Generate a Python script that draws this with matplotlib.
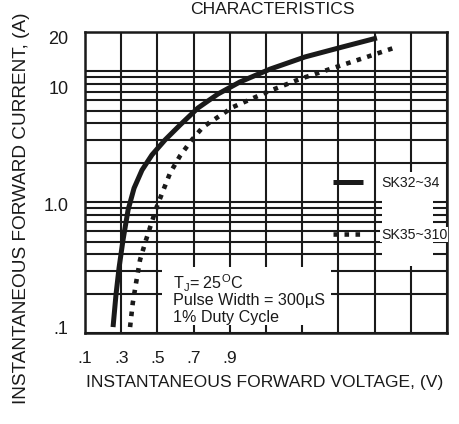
import matplotlib
matplotlib.use("Agg")
import matplotlib.pyplot as plt
from matplotlib.patches import Rectangle
from matplotlib.transforms import ScaledTranslation

# ---- data ----
sk32_v = [0.255, 0.271, 0.288, 0.310, 0.338, 0.371, 0.415, 0.470, 0.542, 0.625,
          0.724, 0.835, 0.956, 1.122, 1.316, 1.525, 1.713]
sk32_i = [0.111, 0.195, 0.314, 0.514, 0.872, 1.28, 1.76, 2.30, 2.99, 3.89,
          5.25, 6.72, 8.30, 10.4, 12.9, 15.4, 18.0]

sk35_v = [0.349, 0.364, 0.382, 0.404, 0.437, 0.496, 0.570, 0.625, 0.690, 0.752,
          0.918, 1.106, 1.288, 1.470, 1.658, 1.824]
sk35_i = [0.111, 0.170, 0.241, 0.362, 0.514, 0.919, 1.67, 2.26, 2.99, 3.76,
          5.34, 6.96, 8.75, 10.6, 12.9, 15.4]

series_labels = ["SK32~34", "SK35~310"]

x_ticks = [0.1, 0.3, 0.5, 0.7, 0.9, 1.1, 1.3, 1.5, 1.7, 1.9, 2.1]
x_ticklabels = [".1", ".3", ".5", ".7", ".9", "", "", "", "", "", ""]
y_ticks = [0.1, 1.0, 10.0, 20.0]
y_ticklabels = [".1", "1.0", "10", "20"]
y_minor = [0.2, 0.3, 0.4, 0.5, 0.6, 0.7, 0.8, 0.9, 2, 3, 4, 5, 6, 7, 8, 9]

note_lines = [r"T$_\mathregular{J}$= 25$^\mathregular{O}$C",
              "Pulse Width = 300\u00b5S",
              "1% Duty Cycle"]

# ---- style ----
INK = "#1a1a1a"
REG = ["Liberation Sans", "DejaVu Sans"]
plt.rcParams["font.family"] = REG
plt.rcParams["mathtext.fontset"] = "custom"
plt.rcParams["mathtext.rm"] = "Liberation Sans"

fig = plt.figure(figsize=(4.59, 4.24), dpi=100)
W, H = 459, 424
L, R, T, B = 85, 447, 32, 333
ax = fig.add_axes([L / W, (H - B) / H, (R - L) / W, (B - T) / H])

ax.set_yscale("log")
ax.set_xlim(0.1, 2.1)
ax.set_ylim(0.1, 20)

ax.set_xticks(x_ticks)
ax.set_xticklabels(x_ticklabels)
ax.set_yticks(y_ticks)
ax.set_yticklabels(y_ticklabels)
ax.set_yticks(y_minor, minor=True)
ax.yaxis.set_minor_formatter(matplotlib.ticker.NullFormatter())
ax.tick_params(axis="both", which="both", length=0, colors=INK)
ax.tick_params(axis="x", pad=13, labelsize=12.5)
ax.tick_params(axis="y", pad=12, labelsize=13)
ax.grid(True, which="both", color=INK, linewidth=1.5)
for s in ax.spines.values():
    s.set_color(INK)
    s.set_linewidth(1.8)

# nudge y tick labels to their printed positions
y_off_px = {".1": 6, "1.0": -2, "10": -16, "20": -6}
for lab in ax.get_yticklabels():
    dy = y_off_px.get(lab.get_text(), 0)
    lab.set_transform(lab.get_transform() + ScaledTranslation(0, dy / 100, fig.dpi_scale_trans))

# curves
ax.plot(sk32_v, sk32_i, color=INK, linewidth=3.6, solid_capstyle="butt",
        solid_joinstyle="round", zorder=3, label=series_labels[0])
ax.plot(sk35_v, sk35_i, color=INK, linewidth=3.3, linestyle=(0, (1.0, 1.4)),
        dash_capstyle="butt", zorder=3, label=series_labels[1])

# white boxes behind legend and note
def axfrac(px, py):
    return ((px - L) / (R - L), (B - py) / (B - T))

x0, y1 = axfrac(382, 172)
x1, y0 = axfrac(433, 266)
ax.add_patch(Rectangle((x0, y0), x1 - x0, y1 - y0, transform=ax.transAxes,
                       facecolor="white", edgecolor="none", zorder=2))
x0, y1 = axfrac(162, 267)
x1, y0 = axfrac(331, 325)
ax.add_patch(Rectangle((x0, y0), x1 - x0, y1 - y0, transform=ax.transAxes,
                       facecolor="white", edgecolor="none", zorder=2))

# note
for line, base in zip(note_lines, [289, 305, 322]):
    fx, fy = axfrac(173, base)
    ax.text(fx, fy, line, transform=ax.transAxes, ha="left", va="baseline",
            fontsize=11.6, color=INK, zorder=4)

# legend
lx, ly = axfrac(333, 176)
leg = ax.legend(loc="upper left", bbox_to_anchor=(lx, ly), frameon=False,
                borderpad=0, borderaxespad=0, handlelength=2.1, handletextpad=1.3,
                labelspacing=2.65, prop={"size": 10.2})
for t in leg.get_texts():
    t.set_color(INK)
    t.set_bbox(dict(facecolor="white", edgecolor="none", pad=0.5))
leg.set_zorder(5)

# labels
fig.text(272 / W, 1 - 9 / H, "CHARACTERISTICS", ha="center", va="center",
         fontsize=12.6, color=INK)
fig.text(265 / W, 1 - 382 / H, "INSTANTANEOUS FORWARD VOLTAGE, (V)", ha="center",
         va="center", fontsize=12.6, color=INK)
fig.text(22 / W, 1 - 208 / H, "INSTANTANEOUS FORWARD CURRENT, (A)", ha="center",
         va="center", rotation=90, fontsize=13.7, color=INK)

fig.savefig("out.png", dpi=100, facecolor="white")
